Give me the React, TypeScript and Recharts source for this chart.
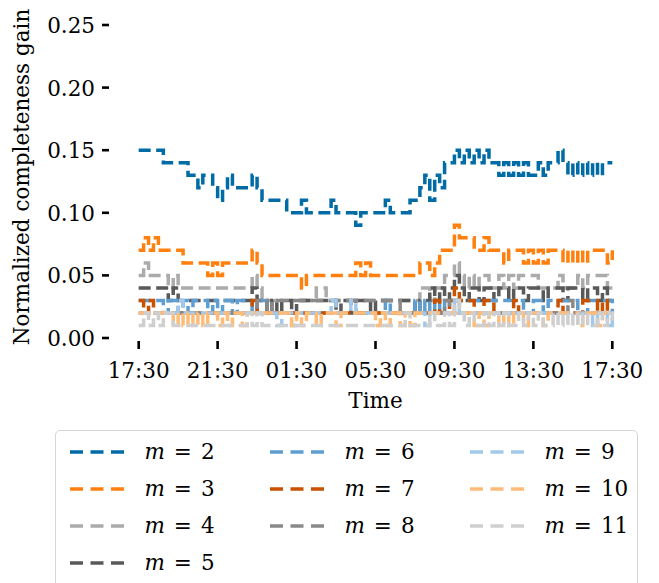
import React from 'react';
import { LineChart, Line, XAxis, YAxis } from 'recharts';

// minutes after 17:30
const TIMES = [0,15,30,45,60,75,90,105,120,135,150,165,180,195,210,225,240,255,270,285,300,315,330,345,360,375,390,405,420,435,450,465,480,495,510,525,540,555,570,585,600,615,630,645,660,675,690,705,720,735,750,765,780,795,810,825,840,855,870,885,900,915,930,945,960,975,990,1005,1020,1035,1050,1065,1080,1095,1110,1125,1140,1155,1170,1185,1200,1215,1230,1245,1260,1275,1290,1305,1320,1335,1350,1365,1380,1395,1410,1425,1440];

const X_TICKS = [0, 240, 480, 720, 960, 1200, 1440];
const X_TICK_LABELS = ['17:30', '21:30', '01:30', '05:30', '09:30', '13:30', '17:30'];
const Y_TICKS = [0, 0.05, 0.1, 0.15, 0.2, 0.25];

const SERIES_KEYS = ['m2', 'm3', 'm4', 'm5', 'm6', 'm7', 'm8', 'm9', 'm10', 'm11'];
const SERIES_LABELS = ['2', '3', '4', '5', '6', '7', '8', '9', '10', '11'];
const COLORS = ['#006BA4', '#FF800E', '#ABABAB', '#595959', '#5F9ED1', '#C85200', '#898989', '#A2C8EC', '#FFBC79', '#CFCFCF'];

const M2 = [0.15,0.15,0.15,0.15,0.15,0.14,0.14,0.14,0.14,0.14,
  0.13,0.13,0.12,0.13,0.13,0.12,0.11,0.12,0.13,0.12,
  0.12,0.12,0.12,0.13,0.12,0.11,0.11,0.11,0.11,0.11,
  0.10,0.10,0.10,0.11,0.10,0.10,0.10,0.10,0.10,0.11,
  0.10,0.10,0.10,0.10,0.09,0.10,0.10,0.10,0.10,0.10,
  0.11,0.10,0.10,0.10,0.10,0.11,0.11,0.12,0.13,0.11,
  0.13,0.12,0.14,0.14,0.15,0.14,0.15,0.14,0.15,0.14,
  0.15,0.14,0.14,0.13,0.14,0.13,0.14,0.13,0.14,0.13,
  0.13,0.14,0.13,0.14,0.14,0.15,0.14,0.13,0.14,0.13,
  0.14,0.13,0.14,0.13,0.14,0.14,0.14];

const M3 = [0.07,0.08,0.07,0.08,0.07,0.07,0.07,0.07,0.07,0.06,
  0.06,0.06,0.06,0.06,0.05,0.06,0.05,0.06,0.06,0.06,
  0.06,0.06,0.06,0.07,0.06,0.05,0.05,0.05,0.05,0.05,
  0.05,0.05,0.05,0.04,0.05,0.05,0.05,0.05,0.05,0.05,
  0.05,0.05,0.05,0.05,0.06,0.05,0.06,0.05,0.05,0.05,
  0.05,0.05,0.05,0.05,0.05,0.05,0.05,0.06,0.06,0.05,
  0.06,0.07,0.07,0.07,0.09,0.08,0.08,0.08,0.07,0.07,
  0.08,0.07,0.07,0.07,0.06,0.07,0.07,0.07,0.06,0.07,
  0.06,0.07,0.06,0.07,0.07,0.07,0.06,0.07,0.06,0.07,
  0.06,0.07,0.07,0.07,0.07,0.06,0.07];

const M4 = [0.05,0.06,0.05,0.05,0.05,0.05,0.04,0.05,0.04,0.04,
  0.04,0.04,0.04,0.04,0.04,0.04,0.04,0.04,0.04,0.04,
  0.04,0.04,0.04,0.05,0.04,0.03,0.03,0.03,0.03,0.03,
  0.03,0.03,0.03,0.03,0.03,0.03,0.04,0.04,0.03,0.03,
  0.03,0.03,0.03,0.03,0.03,0.03,0.03,0.03,0.03,0.03,
  0.03,0.03,0.03,0.03,0.03,0.03,0.03,0.04,0.04,0.03,
  0.04,0.04,0.05,0.05,0.06,0.05,0.04,0.05,0.04,0.05,
  0.05,0.04,0.04,0.05,0.04,0.05,0.04,0.05,0.05,0.05,
  0.05,0.04,0.04,0.04,0.04,0.05,0.04,0.04,0.04,0.05,
  0.04,0.05,0.05,0.05,0.05,0.04,0.04];

const M5 = [0.04,0.04,0.04,0.04,0.04,0.04,0.03,0.04,0.03,0.03,
  0.03,0.03,0.03,0.03,0.03,0.03,0.03,0.03,0.03,0.03,
  0.03,0.03,0.03,0.04,0.03,0.03,0.02,0.03,0.02,0.03,
  0.03,0.02,0.03,0.03,0.03,0.03,0.03,0.03,0.03,0.03,
  0.02,0.03,0.03,0.02,0.03,0.03,0.03,0.02,0.03,0.03,
  0.03,0.03,0.03,0.03,0.03,0.03,0.02,0.03,0.03,0.04,
  0.03,0.04,0.03,0.04,0.05,0.04,0.03,0.04,0.04,0.03,
  0.04,0.04,0.03,0.04,0.04,0.03,0.04,0.04,0.03,0.04,
  0.04,0.04,0.03,0.04,0.04,0.04,0.03,0.04,0.04,0.04,
  0.03,0.04,0.04,0.03,0.04,0.03,0.03];

const M6 = [0.03,0.03,0.03,0.03,0.03,0.02,0.03,0.03,0.02,0.03,
  0.02,0.03,0.03,0.03,0.02,0.03,0.02,0.03,0.03,0.02,
  0.03,0.03,0.03,0.02,0.03,0.03,0.02,0.02,0.02,0.02,
  0.02,0.02,0.02,0.02,0.02,0.02,0.02,0.02,0.02,0.02,
  0.02,0.02,0.02,0.02,0.02,0.02,0.02,0.02,0.02,0.02,
  0.03,0.02,0.02,0.02,0.02,0.02,0.03,0.02,0.03,0.02,
  0.03,0.02,0.03,0.03,0.03,0.03,0.03,0.03,0.03,0.03,
  0.03,0.03,0.03,0.03,0.03,0.03,0.03,0.03,0.02,0.02,
  0.03,0.03,0.02,0.03,0.03,0.03,0.03,0.03,0.03,0.02,
  0.02,0.03,0.03,0.03,0.03,0.03,0.02];

const M7 = [0.03,0.02,0.03,0.02,0.02,0.02,0.02,0.02,0.02,0.02,
  0.02,0.02,0.02,0.02,0.02,0.02,0.02,0.02,0.02,0.02,
  0.02,0.02,0.02,0.03,0.02,0.02,0.02,0.02,0.02,0.02,
  0.02,0.02,0.02,0.02,0.02,0.02,0.02,0.02,0.02,0.02,
  0.02,0.02,0.02,0.02,0.02,0.02,0.02,0.02,0.02,0.02,
  0.02,0.02,0.02,0.02,0.02,0.02,0.02,0.02,0.02,0.02,
  0.03,0.02,0.02,0.03,0.04,0.03,0.03,0.03,0.02,0.02,
  0.03,0.03,0.02,0.02,0.02,0.02,0.03,0.02,0.02,0.02,
  0.02,0.02,0.02,0.02,0.02,0.03,0.02,0.02,0.02,0.02,
  0.03,0.03,0.03,0.02,0.03,0.02,0.02];

const M8 = [0.02,0.02,0.02,0.02,0.02,0.02,0.02,0.02,0.02,0.02,
  0.02,0.02,0.02,0.02,0.02,0.02,0.02,0.02,0.02,0.02,
  0.02,0.02,0.02,0.02,0.03,0.03,0.02,0.03,0.03,0.03,
  0.03,0.03,0.03,0.03,0.03,0.03,0.03,0.03,0.03,0.03,
  0.03,0.03,0.03,0.03,0.03,0.03,0.03,0.03,0.03,0.03,
  0.03,0.03,0.03,0.02,0.02,0.02,0.02,0.02,0.02,0.02,
  0.02,0.02,0.03,0.02,0.03,0.02,0.02,0.02,0.02,0.02,
  0.02,0.02,0.02,0.02,0.02,0.02,0.02,0.02,0.02,0.02,
  0.02,0.02,0.02,0.02,0.02,0.02,0.02,0.03,0.02,0.02,
  0.02,0.02,0.02,0.02,0.02,0.02,0.02];

const M9 = [0.02,0.02,0.02,0.02,0.02,0.02,0.02,0.02,0.03,0.02,
  0.02,0.02,0.02,0.02,0.02,0.02,0.02,0.02,0.02,0.02,
  0.02,0.02,0.02,0.02,0.02,0.02,0.02,0.02,0.01,0.02,
  0.02,0.01,0.02,0.02,0.02,0.02,0.02,0.02,0.02,0.03,
  0.02,0.02,0.02,0.03,0.02,0.02,0.02,0.02,0.02,0.02,
  0.02,0.02,0.02,0.02,0.02,0.02,0.02,0.02,0.01,0.02,
  0.02,0.02,0.02,0.02,0.03,0.02,0.02,0.02,0.02,0.02,
  0.02,0.02,0.02,0.02,0.02,0.02,0.02,0.02,0.02,0.02,
  0.02,0.02,0.02,0.02,0.02,0.02,0.02,0.02,0.02,0.02,
  0.02,0.02,0.01,0.02,0.02,0.01,0.02];

const M10 = [0.02,0.02,0.02,0.02,0.02,0.02,0.02,0.01,0.02,0.01,
  0.02,0.01,0.02,0.01,0.02,0.02,0.01,0.02,0.01,0.02,
  0.02,0.01,0.02,0.02,0.02,0.02,0.02,0.02,0.02,0.02,
  0.02,0.01,0.02,0.01,0.02,0.02,0.01,0.02,0.02,0.02,
  0.01,0.02,0.02,0.02,0.02,0.02,0.02,0.02,0.01,0.02,
  0.01,0.02,0.02,0.01,0.02,0.01,0.02,0.02,0.02,0.02,
  0.02,0.02,0.02,0.02,0.02,0.02,0.02,0.02,0.01,0.02,
  0.01,0.02,0.02,0.01,0.02,0.01,0.02,0.02,0.01,0.02,
  0.02,0.02,0.01,0.02,0.02,0.02,0.02,0.02,0.02,0.01,
  0.02,0.02,0.02,0.01,0.02,0.02,0.02];

const M11 = [0.01,0.02,0.01,0.02,0.01,0.02,0.02,0.01,0.01,0.01,
  0.01,0.01,0.01,0.01,0.01,0.01,0.01,0.01,0.01,0.01,
  0.01,0.01,0.02,0.01,0.02,0.01,0.01,0.01,0.01,0.01,
  0.01,0.01,0.01,0.01,0.01,0.01,0.01,0.01,0.01,0.01,
  0.01,0.01,0.01,0.01,0.01,0.01,0.01,0.01,0.01,0.01,
  0.01,0.01,0.01,0.01,0.02,0.01,0.01,0.01,0.01,0.02,
  0.01,0.01,0.02,0.01,0.03,0.02,0.01,0.02,0.01,0.01,
  0.02,0.01,0.02,0.01,0.02,0.01,0.01,0.02,0.01,0.02,
  0.01,0.02,0.01,0.01,0.02,0.01,0.02,0.01,0.02,0.01,
  0.02,0.01,0.01,0.02,0.01,0.02,0.01];

const SERIES_VALUES = [M2, M3, M4, M5, M6, M7, M8, M9, M10, M11];

const data = TIMES.map((t, i) => {
  const row: Record<string, number> = { t };
  SERIES_KEYS.forEach((k, j) => {
    row[k] = SERIES_VALUES[j][i];
  });
  return row;
});

const FONT = '"DejaVu Serif", serif';
const FS = 21.5;

const XTick = (props: any) => {
  const { x, payload } = props;
  const idx = X_TICKS.indexOf(payload.value);
  return (
    <g>
      <line x1={x} x2={x} y1={341} y2={349} stroke="#000" strokeWidth={2.6} />
      <text x={x} y={378} textAnchor="middle" fontFamily={FONT} fontSize={FS} fill="#000">
        {X_TICK_LABELS[idx]}
      </text>
    </g>
  );
};

const YTick = (props: any) => {
  const { y, payload } = props;
  return (
    <g>
      <line x1={102} x2={109} y1={y} y2={y} stroke="#000" strokeWidth={2.6} />
      <text x={95} y={y + 8} textAnchor="end" fontFamily={FONT} fontSize={FS} fill="#000">
        {Number(payload.value).toFixed(2)}
      </text>
    </g>
  );
};

const XLabel = () => (
  <text x={375.5} y={408} textAnchor="middle" fontFamily={FONT} fontSize={FS} fill="#000">
    Time
  </text>
);

const YLabel = () => (
  <text
    x={29}
    y={177}
    transform="rotate(-90 29 177)"
    textAnchor="middle"
    fontFamily={FONT}
    fontSize={FS}
    fill="#000"
  >
    Normalized completeness gain
  </text>
);

const LEGEND_COLS = [[0, 1, 2, 3], [4, 5, 6], [7, 8, 9]];

export default function App() {
  return (
    <div
      style={{
        position: 'fixed',
        left: 0,
        top: 0,
        width: 659,
        height: 583,
        overflow: 'hidden',
        background: '#fff',
      }}
    >
      <div style={{ position: 'absolute', left: 0, top: 0 }}>
        <LineChart
          width={659}
          height={583}
          data={data}
          margin={{ top: 25, right: 23, left: 100, bottom: 200 }}
        >
          <XAxis
            type="number"
            dataKey="t"
            domain={[-72, 1512]}
            ticks={X_TICKS}
            interval={0}
            tick={XTick}
            tickLine={false}
            axisLine={false}
            height={45}
            label={XLabel}
          />
          <YAxis
            type="number"
            domain={[0, 0.25]}
            ticks={Y_TICKS}
            interval={0}
            tick={YTick}
            tickLine={false}
            axisLine={false}
            width={15}
            label={YLabel}
          />
          {SERIES_KEYS.map((k, j) => (
            <Line
              key={k}
              type="stepAfter"
              dataKey={k}
              stroke={COLORS[j]}
              strokeWidth={3.5}
              strokeDasharray="12 5.5"
              dot={false}
              activeDot={false}
              isAnimationActive={false}
            />
          ))}
        </LineChart>
      </div>
      <div
        style={{
          position: 'absolute',
          left: 55,
          top: 430,
          width: 583,
          height: 200,
          border: '1.5px solid #d6d6d6',
          borderRadius: 5,
          boxSizing: 'border-box',
          background: '#fff',
        }}
      >
        {LEGEND_COLS.map((col, c) =>
          col.map((s, r) => (
            <div
              key={s}
              style={{
                position: 'absolute',
                left: 13.5 + c * 200,
                top: 5.5 + r * 37,
                height: 30,
                display: 'flex',
                alignItems: 'center',
              }}
            >
              <svg width={56} height={10} style={{ display: 'block' }}>
                <line x1={0} x2={54} y1={5} y2={5} stroke={COLORS[s]} strokeWidth={3.5} strokeDasharray="13 7.5" />
              </svg>
              <span
                style={{
                  marginLeft: 19,
                  fontFamily: FONT,
                  fontSize: FS,
                  whiteSpace: 'pre',
                  lineHeight: '30px',
                  wordSpacing: '0.1em',
                }}
              >
                <i>m</i> = {SERIES_LABELS[s]}
              </span>
            </div>
          ))
        )}
      </div>
    </div>
  );
}
